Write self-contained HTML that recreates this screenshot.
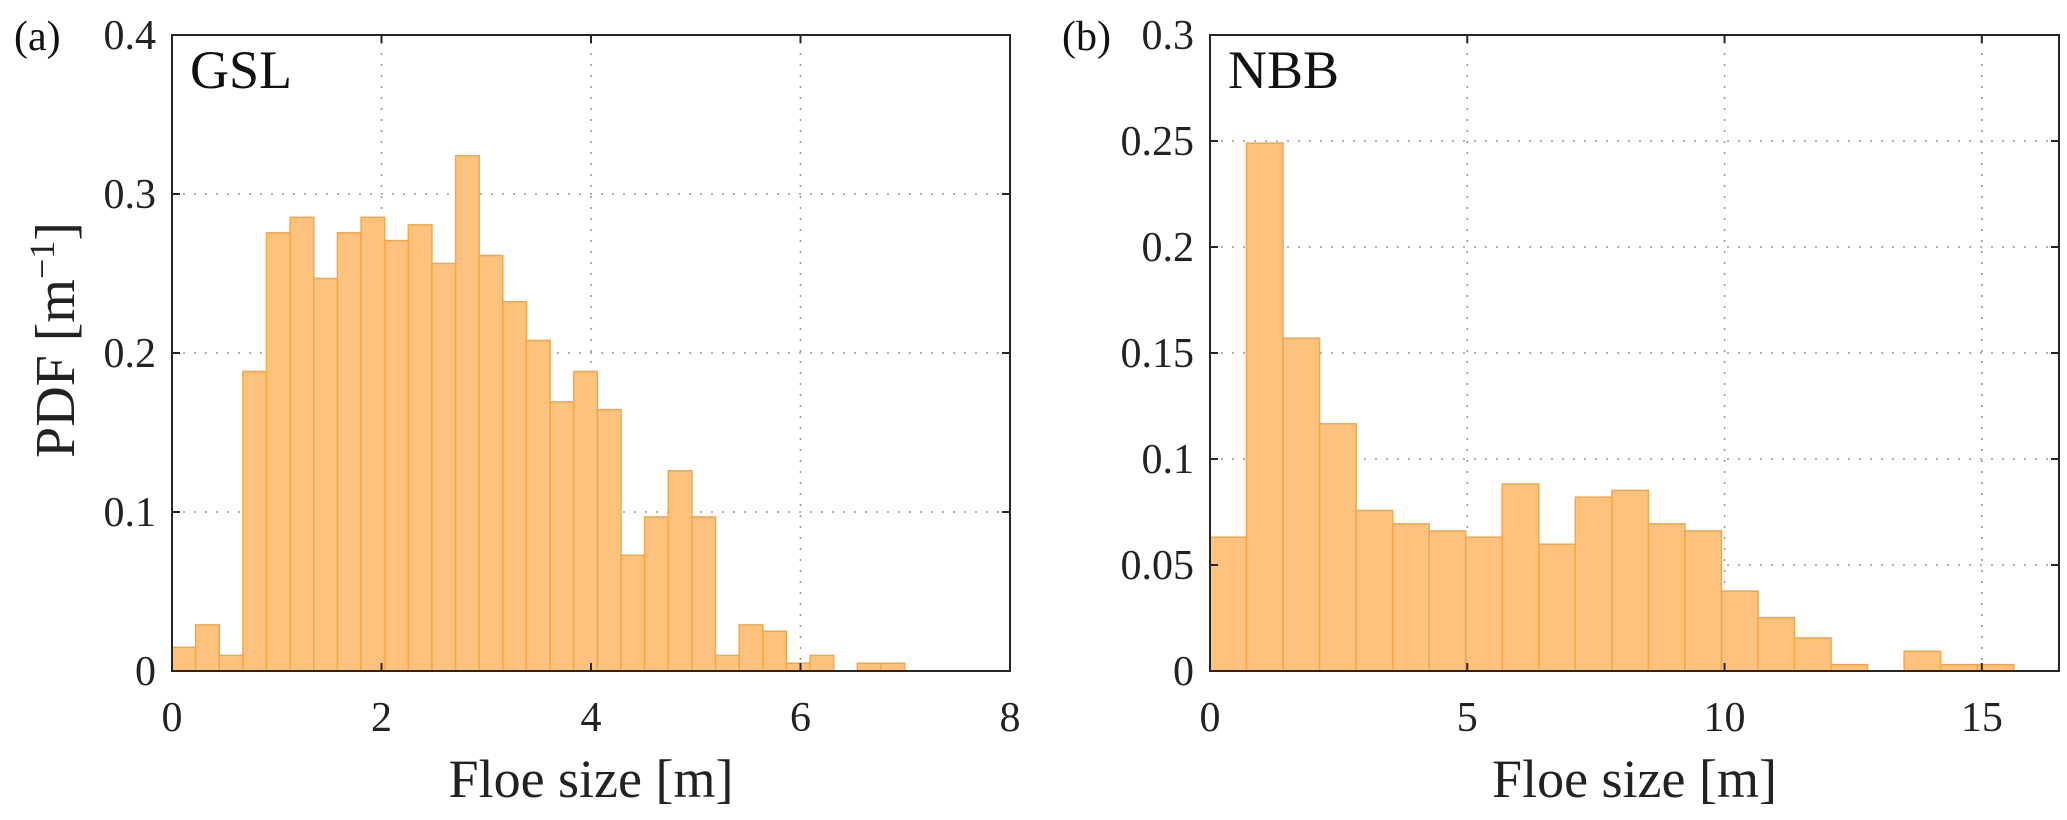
<!DOCTYPE html>
<html><head><meta charset="utf-8"><style>
html,body{margin:0;padding:0;background:#fff;}
svg{display:block;font-family:"Liberation Serif",serif;}
</style></head><body>
<svg id="chart" width="2067" height="820" viewBox="0 0 2067 820" xmlns="http://www.w3.org/2000/svg"></svg>
<script>
// Panel (a) GSL
const gslBinWidth = 0.2256;
const gslValues = [0.0149,0.029,0.0098,0.1884,0.2756,0.2853,0.2469,0.2756,0.2853,0.2707,0.2806,0.2563,0.324,0.2613,0.2322,0.2079,0.1693,0.1884,0.1644,0.0728,0.0969,0.1259,0.0969,0.0098,0.029,0.025,0.0049,0.0098,0,0.0049,0.0049];
const gslXTicks = [0,2,4,6,8];
const gslYTicks = [0,0.1,0.2,0.3,0.4];
const gslYTickLabels = ["0","0.1","0.2","0.3","0.4"];
// Panel (b) NBB
const nbbBinWidth = 0.71;
const nbbValues = [0.0631,0.249,0.157,0.1166,0.0757,0.0694,0.0661,0.0631,0.0882,0.0598,0.082,0.0852,0.0694,0.0661,0.0377,0.0252,0.0156,0.003,0,0.0093,0.003,0.003];
const nbbXTicks = [0,5,10,15];
const nbbYTicks = [0,0.05,0.1,0.15,0.2,0.25,0.3];
const nbbYTickLabels = ["0","0.05","0.1","0.15","0.2","0.25","0.3"];

const NS="http://www.w3.org/2000/svg";
const svg=document.getElementById('chart');
function mk(tag,attrs,parent){const e=document.createElementNS(NS,tag);for(const k in attrs)e.setAttribute(k,attrs[k]);(parent||svg).appendChild(e);return e;}

function panel(p){
  const g=mk('g',{});
  
  
  const sx=v=>p.x0+(v-p.xmin)/(p.xmax-p.xmin)*(p.x1-p.x0);
  const sy=v=>p.y0+(v-p.ymin)/(p.ymax-p.ymin)*(p.y1-p.y0);
  p.xticks.forEach(t=>{ if(t>p.xmin&&t<p.xmax){const l=mk('line',{x1:sx(t),x2:sx(t),y1:p.y0,y2:p.y1,stroke:'#9a9a9a','stroke-width':1.6,'stroke-dasharray':'2 9'},g);
    
    }});
  p.yticks.forEach(t=>{ if(t>p.ymin&&t<p.ymax){const l=mk('line',{x1:p.x0,x2:p.x1,y1:sy(t),y2:sy(t),stroke:'#9a9a9a','stroke-width':1.6,'stroke-dasharray':'2 9'},g);
    
    }});
  p.values.forEach((v,i)=>{ if(v<=0) return;
    const xa=sx(i*p.bw), xb=sx((i+1)*p.bw);
    const r=mk('rect',{x:xa,y:sy(v),width:xb-xa,height:sy(0)-sy(v),fill:'#fcc27e',stroke:'#f8a542','stroke-width':1.5},g);
    
    
  });
  const b=mk('rect',{x:p.x0,y:p.y1,width:p.x1-p.x0,height:p.y0-p.y1,fill:'none',stroke:'#262626','stroke-width':2},g);
  
  
  p.xticks.forEach(t=>{
    mk('line',{x1:sx(t),x2:sx(t),y1:p.y0,y2:p.y0-8,stroke:'#262626','stroke-width':2},g);
    mk('line',{x1:sx(t),x2:sx(t),y1:p.y1,y2:p.y1+8,stroke:'#262626','stroke-width':2},g);
    const tx=mk('text',{x:sx(t),y:p.y0+60,'font-size':42,'text-anchor':'middle',fill:'#222'},g);
    tx.textContent=String(t);
    
    
  });
  p.yticks.forEach((t,i)=>{
    mk('line',{x1:p.x0,x2:p.x0+8,y1:sy(t),y2:sy(t),stroke:'#262626','stroke-width':2},g);
    mk('line',{x1:p.x1,x2:p.x1-8,y1:sy(t),y2:sy(t),stroke:'#262626','stroke-width':2},g);
    const tx=mk('text',{x:p.x0-16,y:sy(t)+14,'font-size':42,'text-anchor':'end',fill:'#222'},g);
    tx.textContent=p.ylabels[i];
    
    
  });
  const xl=mk('text',{x:(p.x0+p.x1)/2,y:797,'font-size':54,'text-anchor':'middle',fill:'#222'},g);
  xl.textContent='Floe size [m]';
  
  
  const tl=mk('text',{x:p.x0+18,y:88,'font-size':54,fill:'#111'},g);
  tl.textContent=p.title;
  
  
  const pl=mk('text',{x:p.labelX,y:50,'font-size':42,fill:'#111'},g);
  pl.textContent=p.label;
  
  
}
panel({name:'gsl-panel',x0:172,x1:1010,y0:671,y1:35,xmin:0,xmax:8,ymin:0,ymax:0.4,bw:gslBinWidth,values:gslValues,xticks:gslXTicks,yticks:gslYTicks,ylabels:gslYTickLabels,title:'GSL',label:'(a)',labelX:14});
panel({name:'nbb-panel',x0:1210,x1:2059,y0:671,y1:35,xmin:0,xmax:16.5,ymin:0,ymax:0.3,bw:nbbBinWidth,values:nbbValues,xticks:nbbXTicks,yticks:nbbYTicks,ylabels:nbbYTickLabels,title:'NBB',label:'(b)',labelX:1062});
const yl=mk('text',{x:0,y:0,'font-size':56,'text-anchor':'middle',fill:'#222',transform:'translate(74,340) rotate(-90)'});


yl.innerHTML='PDF [m<tspan dy="-20" font-size="36">−1</tspan><tspan dy="20">]</tspan>';
</script>
</body></html>
